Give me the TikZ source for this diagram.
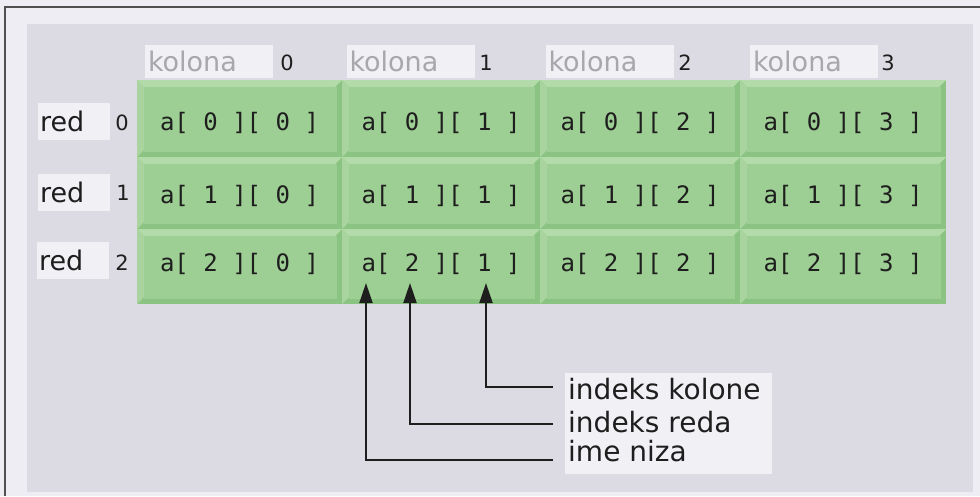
\documentclass[tikz,border=0pt]{standalone}
\usepackage{fontspec}
\setmainfont{DejaVu Sans}
\newfontfamily\monof{DejaVu Sans Mono}
\usetikzlibrary{arrows.meta}
\definecolor{outerbg}{HTML}{EEEDF3}
\definecolor{frameline}{HTML}{505050}
\definecolor{panelc}{HTML}{DCDBE3}
\definecolor{boxc}{HTML}{F1F0F5}
\definecolor{gbase}{HTML}{8BC482}
\definecolor{gface}{HTML}{9DCE93}
\definecolor{glight}{HTML}{B3DAA9}
\definecolor{gleft}{HTML}{A9D49F}
\definecolor{ktext}{HTML}{A8A8AC}
\definecolor{dtext}{HTML}{1E1E1E}
\tikzset{
  kbox/.style={fill=boxc, minimum width=128pt, minimum height=33pt, text width=122pt, inner sep=3pt, align=left, text=ktext, font=\fontsize{27}{30}\selectfont},
  rbox/.style={fill=boxc, minimum width=72pt, minimum height=37pt, text width=68pt, inner sep=2pt, align=left, text=dtext, font=\fontsize{27}{30}\selectfont},
  idx/.style={text=dtext, inner sep=0pt, anchor=base, font=\fontsize{21}{24}\selectfont},
  celltext/.style={text=dtext, inner sep=0pt, anchor=base, font=\monof\fontsize{24}{28}\selectfont},
  lbl/.style={text=dtext, inner sep=0pt, anchor=base west, font=\fontsize{28}{31}\selectfont},
  arr/.style={draw=dtext, line width=2pt, -{Triangle[width=13pt,length=20pt]}},
}
\begin{document}
\begin{tikzpicture}[x=1pt,y=-1pt]
\useasboundingbox (0,0) rectangle (980,496);
\fill[outerbg] (0,0) rectangle (980,496);
\draw[frameline, line width=1.2pt] (5,496) -- (5,7) -- (980,7);
\fill[panelc] (27,24) rectangle (973,492);
% grid
\fill[gbase] (137,80) rectangle (946,304);
\foreach \ri/\ya/\yb/\bl in {0/80/157/130,1/157/229/203,2/229/304/271}{
  \foreach \ci/\xa/\xb in {0/137/342,1/342/540,2/540/740,3/740/946}{
    \fill[gbase] (\xa,\ya) rectangle (\xb,\yb);
    \fill[glight] (\xa,\ya) -- (\xb,\ya) -- (\xb-7,\ya+7) -- (\xa+7,\ya+7) -- cycle;
    \fill[gleft] (\xa,\ya) -- (\xa+7,\ya+7) -- (\xa+7,\yb-7) -- (\xa,\yb) -- cycle;
    \fill[gface] (\xa+7,\ya+7) rectangle (\xb-5,\yb-5);
    \node[celltext] (c\ri\ci) at ({(\xa+\xb)/2},\bl) {a[ \ri{} ][ \ci{} ]};
  }
}
% column headers
\node[kbox] (k0) at (209,61.5) {kolona};
\node[kbox] (k1) at (410.5,61.5) {kolona};
\node[kbox] (k2) at (609.5,61.5) {kolona};
\node[kbox] (k3) at (814,61.5) {kolona};
\node[idx] (kn0) at (287,70) {0};
\node[idx] (kn1) at (486,70) {1};
\node[idx] (kn2) at (685,70) {2};
\node[idx] (kn3) at (888,70) {3};
% row headers
\node[rbox] (r0) at (74,121.5) {red};
\node[rbox] (r1) at (74,192) {red};
\node[rbox] (r2) at (73,260) {red};
\node[idx] (rn0) at (122,130) {0};
\node[idx] (rn1) at (123,200) {1};
\node[idx] (rn2) at (122,270) {2};
% label box
\fill[boxc] (565,373) rectangle (772,474);
\node[lbl] (lk) at (568,399) {indeks kolone};
\node[lbl] (lr) at (568,432) {indeks reda};
\node[lbl] (li) at (568,461) {ime niza};
\coordinate (tk) at (486,283);
\coordinate (tr) at (410,283);
\coordinate (ti) at (366,283);
\coordinate (sk) at (553,387);
\coordinate (sr) at (553,424);
\coordinate (si) at (553,460);
\draw[arr] (sk) -| (tk);
\draw[arr] (sr) -| (tr);
\draw[arr] (si) -| (ti);
\end{tikzpicture}
\end{document}
